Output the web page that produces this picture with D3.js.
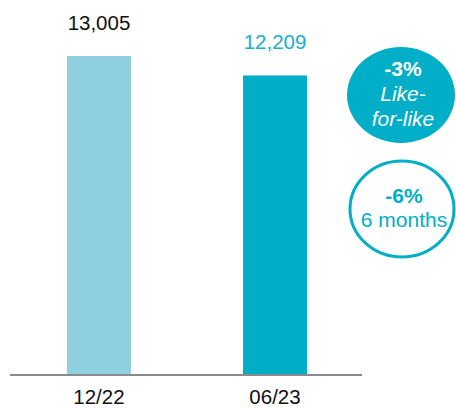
<!DOCTYPE html>
<html><head><meta charset="utf-8">
<script src="https://cdn.jsdelivr.net/npm/d3@7"></script>
<style>html,body{margin:0;padding:0;background:#fff;}svg{display:block;}</style>
</head><body>
<svg id="c" width="456" height="408"></svg>
<script>
const categories = ["12/22", "06/23"];
const values = [13005, 12209];
const valueLabels = ["13,005", "12,209"];
const barColors = ["#8ECFE0", "#00AEC7"];
const labelColors = ["#111111", "#1AAFC9"];
const badgeTop = ["-3%", "Like-", "for-like"];
const badgeBottom = ["-6%", "6 months"];

const svg = d3.select("#c");
const font = "'Liberation Sans', Arial, sans-serif";
const teal = "#00AEC7";

const x = d3.scaleBand().domain(categories).range([11, 363]).paddingInner(112/176).paddingOuter(0.318);
const y = d3.scaleLinear().domain([0, 13005]).range([374, 56]);

svg.selectAll("rect.bar").data(values).enter().append("rect")
  .attr("class","bar")
  .attr("x",(d,i)=>x(categories[i]))
  .attr("y",d=>y(d))
  .attr("width",x.bandwidth())
  .attr("height",d=>y(0)-y(d))
  .attr("fill",(d,i)=>barColors[i]);

svg.selectAll("text.val").data(values).enter().append("text")
  .attr("class","val")
  .attr("x",(d,i)=>x(categories[i])+x.bandwidth()/2)
  .attr("y",d=>y(d)-26)
  .attr("text-anchor","middle")
  .attr("font-family",font).attr("font-size",20.5)
  .attr("fill",(d,i)=>labelColors[i])
  .text((d,i)=>valueLabels[i]);

svg.append("line").attr("x1",10).attr("x2",362).attr("y1",y(0)+1).attr("y2",y(0)+1)
  .attr("stroke","#8a8a8a").attr("stroke-width",2);

svg.selectAll("text.cat").data(categories).enter().append("text")
  .attr("class","cat")
  .attr("x",d=>x(d)+x.bandwidth()/2)
  .attr("y",404)
  .attr("text-anchor","middle")
  .attr("font-family",font).attr("font-size",20.5)
  .attr("fill","#111")
  .text(d=>d);

// badges
svg.append("ellipse").attr("cx",401).attr("cy",95).attr("rx",54).attr("ry",48).attr("fill",teal);
const tb = [76,101,126];
badgeTop.forEach((t,i)=>{
  svg.append("text").attr("x",403).attr("y",tb[i]).attr("text-anchor","middle")
    .attr("font-family",font).attr("font-size",21).attr("fill","#fff")
    .attr("font-weight",i===0?"bold":"normal")
    .attr("font-style",i===0?"normal":"italic")
    .text(t);
});
svg.append("ellipse").attr("cx",402).attr("cy",209).attr("rx",52).attr("ry",48)
  .attr("fill","#fff").attr("stroke",teal).attr("stroke-width",3);
const bb = [203,227];
badgeBottom.forEach((t,i)=>{
  svg.append("text").attr("x",404).attr("y",bb[i]).attr("text-anchor","middle")
    .attr("font-family",font).attr("font-size",21).attr("fill",teal)
    .attr("font-weight",i===0?"bold":"normal")
    .text(t);
});
</script>
</body></html>
